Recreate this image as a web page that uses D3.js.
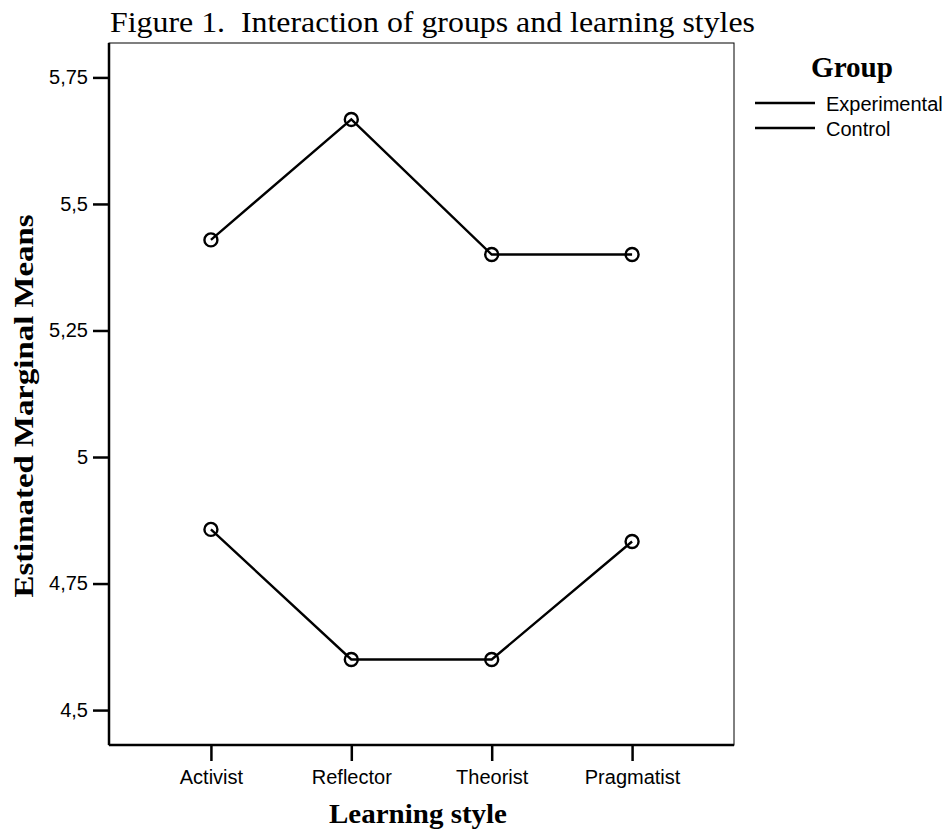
<!DOCTYPE html>
<html>
<head>
<meta charset="utf-8">
<script src="https://cdn.jsdelivr.net/npm/d3@7"></script>
<style>
body { margin: 0; background: #fff; }
svg text { fill: #000; }
</style>
</head>
<body>
<div id="chart"></div>
<script>
// learning styles on x
var styles = ["Activist", "Reflector", "Theorist", "Pragmatist"];
var groups = ["Experimental", "Control"];
var experimental = [5.429, 5.667, 5.4, 5.4];
var control = [4.857, 4.6, 4.6, 4.833];
var yTicks = [4.5, 4.75, 5, 5.25, 5.5, 5.75];

var width = 951, height = 830;
// plot frame edges (window.top is taken, so no bare "top")
var frame = {left: 109, right: 734, top: 43, bottom: 745};
var serif = "'Liberation Serif', 'Times New Roman', serif";
var sans = "Arial, 'Liberation Sans', sans-serif";

var svg = d3.select("#chart").append("svg")
    .attr("width", width)
    .attr("height", height);

var x = d3.scalePoint()
    .domain(styles)
    .range([frame.left, frame.right])
    .padding(0.726);

var y = d3.scaleLinear()
    .domain([4.431, 5.818])
    .range([frame.bottom, frame.top]);

// frame (top + right thin)
svg.append("rect")
    .attr("x", frame.left).attr("y", frame.top)
    .attr("width", frame.right - frame.left).attr("height", frame.bottom - frame.top)
    .attr("fill", "none").attr("stroke", "#000").attr("stroke-width", 1);

var fmt = function(d) { return String(d).replace(".", ","); };

var yAxis = svg.append("g")
    .attr("transform", "translate(" + frame.left + ",0)")
    .call(d3.axisLeft(y).tickValues(yTicks).tickSize(16).tickPadding(5).tickFormat(fmt));
yAxis.select(".domain").attr("stroke-width", 2.5).attr("d", "M0," + frame.top + "V" + frame.bottom);
yAxis.selectAll(".tick line").attr("stroke-width", 2.5);
yAxis.selectAll("text").attr("font-family", sans).attr("font-size", 20);

var xAxis = svg.append("g")
    .attr("transform", "translate(0," + frame.bottom + ")")
    .call(d3.axisBottom(x).tickSize(16).tickPadding(9));
xAxis.select(".domain").attr("stroke-width", 2.5).attr("d", "M" + frame.left + ",0H" + frame.right);
xAxis.selectAll(".tick line").attr("stroke-width", 2.5);
xAxis.selectAll("text").attr("font-family", sans).attr("font-size", 20);

var line = d3.line()
    .x(function(d, i) { return x(styles[i]); })
    .y(function(d) { return y(d); });

[experimental, control].forEach(function(series) {
    svg.append("path")
        .datum(series)
        .attr("d", line)
        .attr("fill", "none")
        .attr("stroke", "#000")
        .attr("stroke-width", 2.4);
    svg.selectAll(null)
        .data(series)
        .enter().append("circle")
        .attr("cx", function(d, i) { return x(styles[i]); })
        .attr("cy", function(d) { return y(d); })
        .attr("r", 6.5)
        .attr("fill", "none")
        .attr("stroke", "#000")
        .attr("stroke-width", 2.4);
});

// title
svg.append("text")
    .attr("x", 110).attr("y", 32)
    .attr("font-family", serif)
    .attr("font-size", 30)
    .attr("xml:space", "preserve")
    .attr("textLength", 645).attr("lengthAdjust", "spacingAndGlyphs")
    .text("Figure 1.  Interaction of groups and learning styles");

// axis titles
svg.append("text")
    .attr("x", 418).attr("y", 823)
    .attr("text-anchor", "middle")
    .attr("font-family", serif)
    .attr("font-size", 27).attr("font-weight", "bold")
    .attr("textLength", 178).attr("lengthAdjust", "spacingAndGlyphs")
    .text("Learning style");

svg.append("text")
    .attr("transform", "translate(33,406) rotate(-90)")
    .attr("text-anchor", "middle")
    .attr("font-family", serif)
    .attr("font-size", 28).attr("font-weight", "bold")
    .attr("textLength", 383).attr("lengthAdjust", "spacingAndGlyphs")
    .text("Estimated Marginal Means");

// legend
svg.append("text")
    .attr("x", 852).attr("y", 77)
    .attr("text-anchor", "middle")
    .attr("font-family", serif)
    .attr("font-size", 30).attr("font-weight", "bold")
    .attr("textLength", 82).attr("lengthAdjust", "spacingAndGlyphs")
    .text("Group");

var leg = svg.selectAll(".leg")
    .data(groups)
    .enter().append("g")
    .attr("class", "leg")
    .attr("transform", function(d, i) { return "translate(0," + (103 + i * 25) + ")"; });
leg.append("line")
    .attr("x1", 755).attr("x2", 815)
    .attr("stroke", "#000").attr("stroke-width", 2.4);
leg.append("text")
    .attr("x", 826).attr("y", 8)
    .attr("font-family", sans)
    .attr("font-size", 20)
    .text(function(d) { return d; });
</script>
</body>
</html>
